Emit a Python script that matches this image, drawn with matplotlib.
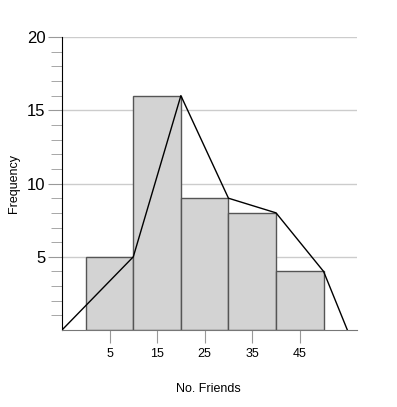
import matplotlib.pyplot as plt
import numpy as np

plt.rcParams['font.family'] = ['Liberation Sans', 'DejaVu Sans']

# Datos del histograma
limites = [0, 10, 20, 30, 40, 50]
frecuencias = [5, 16, 9, 8, 4]
# Poligono de frecuencias (tal como aparece en la imagen)
poligono_x = [-5, 10, 20, 30, 40, 50, 55]
poligono_y = [0, 5, 16, 9, 8, 4, 0]
ticks_x = [5, 15, 25, 35, 45]
ticks_y = [5, 10, 15, 20]

fig = plt.figure(figsize=(3.97, 4.07), dpi=100)
ax = fig.add_axes([0.156, 0.189, 0.743, 0.72])

anchos = np.diff(limites)
ax.bar(limites[:-1], frecuencias, width=anchos, align='edge',
       color='#d3d3d3', edgecolor='#555555', linewidth=1, zorder=2)
ax.plot(poligono_x, poligono_y, color='black', linewidth=1, zorder=3)

ax.set_xlim(-5, 57)
ax.set_ylim(0, 20)
ax.set_xticks(ticks_x)
ax.set_yticks(ticks_y)
ax.set_yticks([i for i in range(1, 20) if i % 5 != 0], minor=True)
ax.yaxis.grid(True, color='#cccccc', linewidth=1, zorder=0)
ax.set_axisbelow(True)

for lado in ['top', 'right']:
    ax.spines[lado].set_visible(False)
ax.spines['left'].set_color('black')
ax.spines['bottom'].set_color('#777777')

ax.tick_params(axis='y', which='major', length=10, color='#999999', labelsize=12, pad=2)
ax.tick_params(axis='y', which='minor', length=8, color='#999999')
ax.tick_params(axis='x', length=9, color='#999999', labelsize=9, pad=4)

# Etiquetas de los ejes en posiciones fijas
fig.text(0.524, 0.044, 'No. Friends', fontsize=9, ha='center', va='center')
fig.text(0.035, 0.55, 'Frequency', fontsize=9, ha='center', va='center', rotation=90)

plt.savefig('out.png', dpi=100)
